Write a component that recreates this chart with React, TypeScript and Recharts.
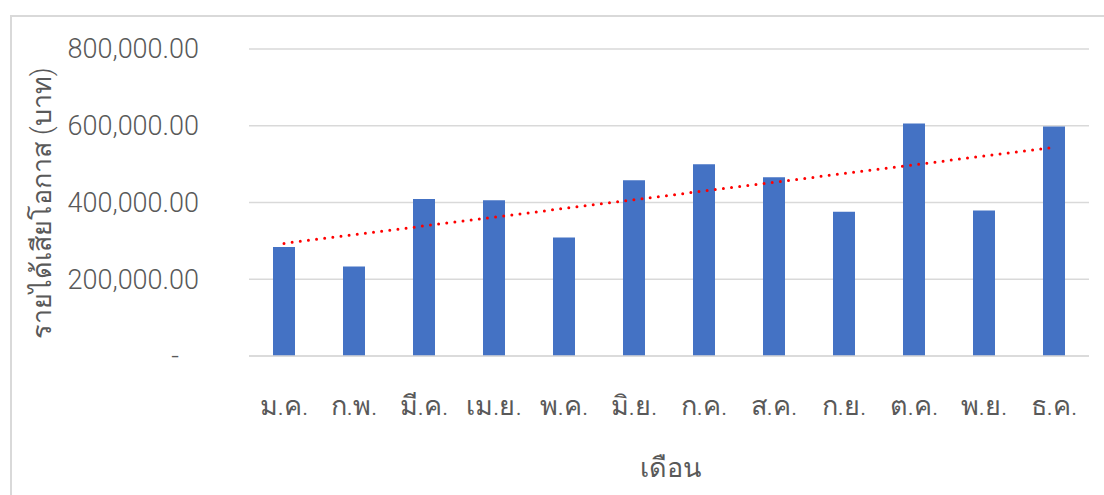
import { ComposedChart, Bar, Line, XAxis, YAxis, CartesianGrid, Label } from "recharts";

const months = ["ม.ค.", "ก.พ.", "มี.ค.", "เม.ย.", "พ.ค.", "มิ.ย.", "ก.ค.", "ส.ค.", "ก.ย.", "ต.ค.", "พ.ย.", "ธ.ค."];
const lostIncome = [284000, 233000, 409000, 406000, 309000, 458000, 500000, 466000, 376000, 606000, 379000, 598000];
const yTicks = [0, 200000, 400000, 600000, 800000];

const xTitle = "เดือน";
const yTitle = "รายได้เสียโอกาส (บาท)";

// linear trend line (least squares), like Excel's trendline
const n = lostIncome.length;
const meanX = (n + 1) / 2;
const meanY = lostIncome.reduce((a, b) => a + b, 0) / n;
let sxy = 0, sxx = 0;
lostIncome.forEach((v, i) => { sxy += (i + 1 - meanX) * (v - meanY); sxx += (i + 1 - meanX) ** 2; });
const slope = sxy / sxx;

const rows = months.map((m, i) => ({
  month: m,
  value: lostIncome[i],
  trend: meanY + slope * (i + 1 - meanX),
}));

const font = "Roboto, 'Noto Sans', 'DejaVu Sans', sans-serif";
const grey = "#595959";

const fmt = (v: number) =>
  v.toLocaleString("en-US", { minimumFractionDigits: 2, maximumFractionDigits: 2 });

function YTick(props: any) {
  const { x, y, payload } = props;
  if (payload.value === 0) {
    return <text x={x - 20} y={y} dy="0.35em" textAnchor="end" fill={grey} fontSize={27} fontWeight={300} fontFamily={font}>-</text>;
  }
  return (
    <text x={x} y={y} dy="0.35em" textAnchor="end" fill={grey} fontSize={27} fontWeight={300} fontFamily={font}>
      {fmt(payload.value)}
    </text>
  );
}

export default function App() {
  return (
    <div style={{ position: "absolute", left: 0, top: 0, width: 1104, height: 495, overflow: "hidden", background: "#fff" }}>
      <div style={{ position: "absolute", left: 10, top: 15, width: 1200, height: 600, border: "2px solid #D9D9D9", boxSizing: "border-box" }} />
      <ComposedChart
        width={1104}
        height={495}
        data={rows}
        margin={{ top: 49, right: 15, bottom: 0, left: 0 }}
        style={{ position: "absolute", left: 0, top: 0 }}
      >
        <CartesianGrid stroke="#D9D9D9" strokeWidth={1.5} vertical={false} />
        <XAxis
          dataKey="month"
          axisLine={{ stroke: "#D9D9D9", strokeWidth: 1.5 }}
          tickLine={false}
          tickSize={0}
          tickMargin={40}
          interval={0}
          tick={{ fill: grey, fontSize: 27, fontWeight: 300, fontFamily: font }}
          height={139}
        >
          <Label
            content={() => (
              <text x={670} y={468} dy="0.35em" textAnchor="middle" fill={grey} fontSize={27} fontWeight={300} fontFamily={font}>
                {xTitle}
              </text>
            )}
          />
        </XAxis>
        <YAxis
          width={249}
          domain={[0, 800000]}
          ticks={yTicks}
          axisLine={false}
          tickLine={false}
          tickSize={0}
          tickMargin={50}
          tick={<YTick />}
        >
          <Label
            content={() => (
              <text x={42} y={203} dy="0.35em" textAnchor="middle" fill={grey} fontSize={27} fontWeight={300} fontFamily={font}
                transform="rotate(-90 42 203)">
                {yTitle}
              </text>
            )}
          />
        </YAxis>
        <Bar dataKey="value" fill="#4472C4" barSize={22} isAnimationActive={false} />
        <Line
          dataKey="trend"
          type="linear"
          stroke="#FF0000"
          strokeWidth={3}
          strokeDasharray="0 8.2"
          strokeLinecap="round"
          dot={false}
          activeDot={false}
          isAnimationActive={false}
        />
      </ComposedChart>
    </div>
  );
}
